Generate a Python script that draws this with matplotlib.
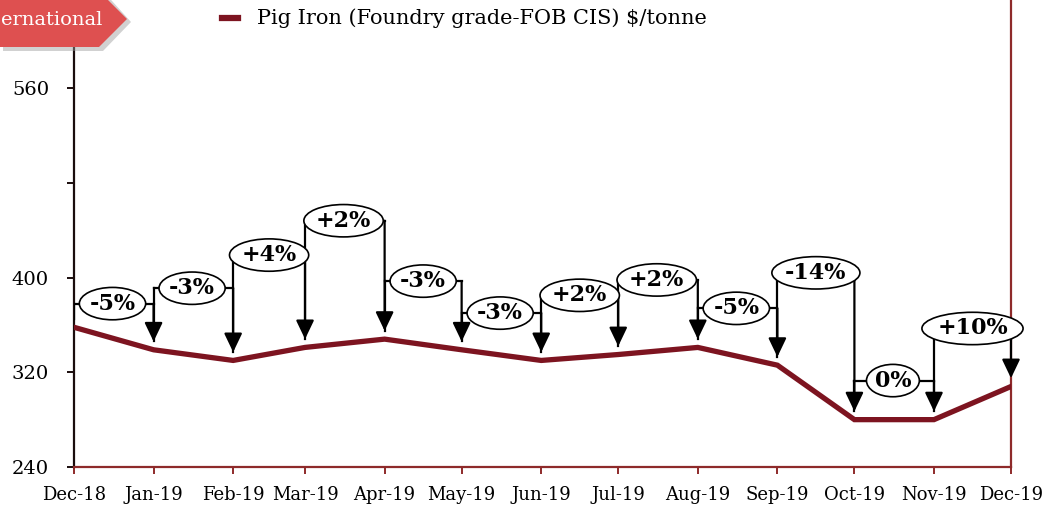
import datetime as dt
import matplotlib
matplotlib.use("Agg")
import matplotlib.pyplot as plt
import matplotlib.dates as mdates
from matplotlib.patches import Polygon

plt.rcParams['font.family'] = ['DejaVu Serif']

# monthly pig iron price, $/tonne
months = [dt.date(2018, 12, 1)] + [dt.date(2019, m, 1) for m in range(1, 13)]
prices = [358, 339, 330, 341, 348, 339, 330, 335, 341, 326, 280, 280, 308]
changes = ['-5%', '-3%', '+4%', '+2%', '-3%', '-3%', '+2%', '+2%', '-5%',
           '-14%', '0%', '+10%']
# height of each change bracket (data units)
bracket_y = [378, 391, 419, 448, 397, 370, 385, 398, 374, 404, 313, 357]

W, H = 1044, 512
LINE_RED = '#7d1420'
AXIS_RED = '#8e2a2a'

fig = plt.figure(figsize=(W / 100, H / 100), dpi=100)

def fx(px):
    return px / W

def fy(py):
    return 1 - py / H

ax = fig.add_axes([fx(74), fy(467), fx(1011) - fx(74), fy(-6.6) - fy(467)])

ax.plot(months, prices, color=LINE_RED, lw=3.8, solid_joinstyle='miter', zorder=3)

gap = 7
for i, lab in enumerate(changes):
    x0, x1 = months[i], months[i + 1]
    h = bracket_y[i]
    ax.plot([x0, x1], [h, h], color='black', lw=1.6, zorder=4)
    ax.plot([x0, x0], [h, prices[i] + gap], color='black', lw=1.6, zorder=4)
    ax.annotate('', xy=(x1, prices[i + 1] + gap), xytext=(x1, h),
                arrowprops=dict(arrowstyle='-|>,head_width=0.55,head_length=1.15',
                                color='black', lw=1.6, shrinkA=0, shrinkB=0),
                zorder=4)
    xm = x0 + (x1 - x0) / 2
    ax.text(xm, h, lab, ha='center', va='center', fontsize=16, fontweight='bold',
            zorder=6,
            bbox=dict(boxstyle='ellipse,pad=0.02', fc='white', ec='black', lw=1.2))

ax.set_xlim(months[0], months[-1])
ax.set_ylim(240, 640)
ax.set_xticks(months)
ax.xaxis.set_major_formatter(mdates.DateFormatter('%b-%y'))
ax.set_yticks([240, 320, 400, 480, 560, 640])
ax.set_yticklabels(['240', '320', '400', '', '560', ''])

ax.spines['top'].set_visible(False)
ax.spines['left'].set_color('#1a0d0d')
ax.spines['left'].set_linewidth(1.6)
ax.spines['bottom'].set_color(AXIS_RED)
ax.spines['bottom'].set_linewidth(1.6)
ax.spines['right'].set_color(AXIS_RED)
ax.spines['right'].set_linewidth(1.6)

ax.tick_params(axis='x', colors=AXIS_RED, length=5, width=1.4, pad=9,
               labelcolor='black', labelsize=13)
ax.tick_params(axis='y', colors='#1a0d0d', length=5, width=1.4, pad=13,
               labelcolor='black', labelsize=14)

# banner top-left (its word runs off the left edge in the original)
shadow = Polygon([(fx(3), fy(-9)), (fx(103), fy(-9)), (fx(131), fy(22)),
                  (fx(103), fy(51)), (fx(3), fy(51))],
                 closed=True, transform=fig.transFigure, fc='#999999', alpha=0.45,
                 ec='none')
banner = Polygon([(fx(0), fy(-9)), (fx(99), fy(-9)), (fx(127), fy(19)),
                  (fx(99), fy(47)), (fx(0), fy(47))],
                 closed=True, transform=fig.transFigure, fc='#de5050', ec='none')
fig.patches.extend([shadow, banner])
fig.text(fx(1), fy(20), 'ernational', color='white', fontsize=14,
         ha='left', va='center')

# legend
fig.lines.append(plt.Line2D([fx(222), fx(238)], [fy(18), fy(18)],
                            transform=fig.transFigure, color=LINE_RED, lw=4.5))
fig.text(fx(257), fy(18), 'Pig Iron (Foundry grade-FOB CIS) $/tonne',
         fontsize=15, ha='left', va='center')

fig.savefig('out.png', dpi=100)
